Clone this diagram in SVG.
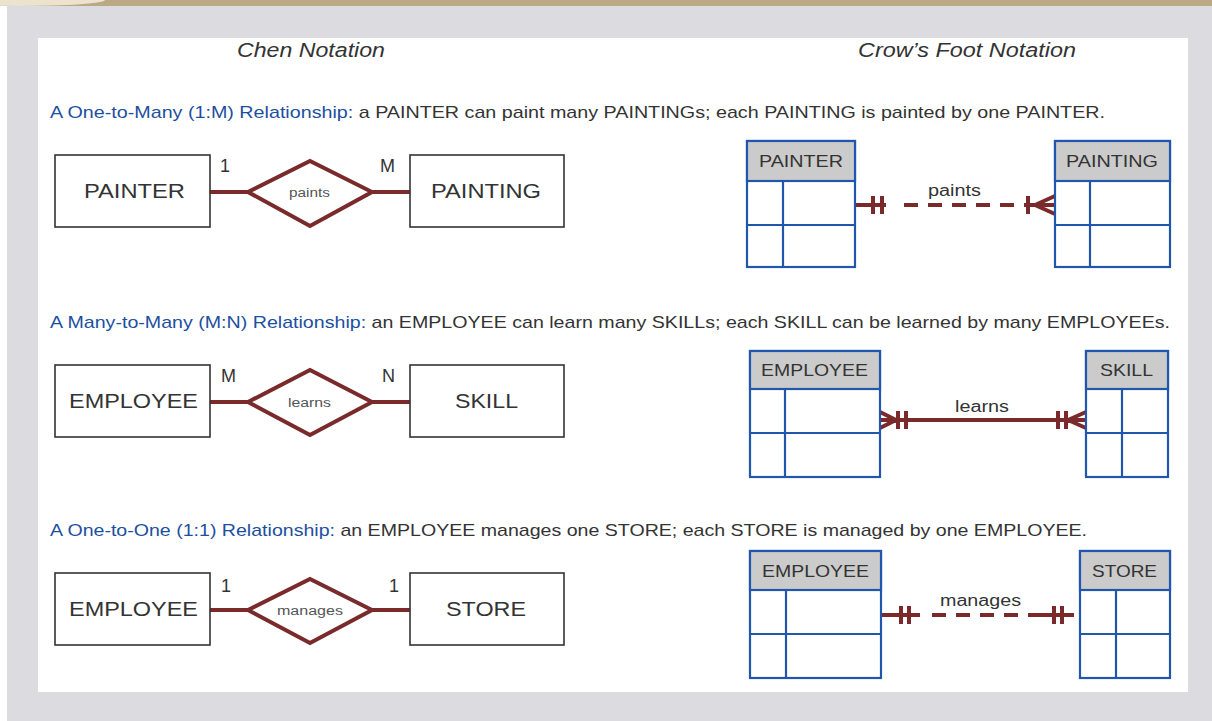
<svg xmlns="http://www.w3.org/2000/svg" width="1212" height="721" viewBox="0 0 1212 721">
<defs>
<style>
.t{font-family:"Liberation Sans",Arial,sans-serif;fill:#333}
.title{font-size:20px;font-style:italic}
.sent{font-size:17px}
.blue{fill:#1d4fa0}
.box{fill:#fff;stroke:#333;stroke-width:1.6}
.bt{font-size:21px}
.card{font-size:18px}
.dia{fill:#fff;stroke:#7a2a2a;stroke-width:4}
.rel{stroke:#7a2a2a;stroke-width:4;fill:none}
.dt{font-size:12.5px;fill:#555}
.tbl{fill:#fff;stroke:#2156ad;stroke-width:2.2}
.hdr{fill:#cbcbcb;stroke:#2156ad;stroke-width:2.2}
.ln{stroke:#2156ad;stroke-width:2.2}
.ht{font-size:17px}
.cf{stroke:#7a2a2a;stroke-width:4;fill:none}
.dash{stroke-dasharray:14 10}
.cl{font-size:16px}
</style>
</defs>
<rect x="0" y="0" width="1212" height="721" fill="#fff"/>
<rect x="7" y="0" width="1205" height="721" fill="#dcdbe0"/>
<rect x="0" y="0" width="1212" height="6" fill="#bba884"/>
<ellipse cx="20" cy="0" rx="85" ry="6" fill="#ece3cf"/>
<rect x="38" y="38" width="1150" height="654" fill="#fff"/>

<text class="t title" x="237" y="57" textLength="148" lengthAdjust="spacingAndGlyphs">Chen Notation</text>
<text class="t title" x="858" y="57" textLength="218" lengthAdjust="spacingAndGlyphs">Crow’s Foot Notation</text>

<text class="t sent" x="50" y="118" textLength="1055" lengthAdjust="spacingAndGlyphs"><tspan class="blue">A One-to-Many (1:M) Relationship:</tspan> a PAINTER can paint many PAINTINGs; each PAINTING is painted by one PAINTER.</text>
<text class="t sent" x="50" y="328" textLength="1120" lengthAdjust="spacingAndGlyphs"><tspan class="blue">A Many-to-Many (M:N) Relationship:</tspan> an EMPLOYEE can learn many SKILLs; each SKILL can be learned by many EMPLOYEEs.</text>
<text class="t sent" x="50" y="536" textLength="1037" lengthAdjust="spacingAndGlyphs"><tspan class="blue">A One-to-One (1:1) Relationship:</tspan> an EMPLOYEE manages one STORE; each STORE is managed by one EMPLOYEE.</text>

<g id="connectors">
<line class="rel" x1="210" y1="192" x2="248" y2="192"/>
<line class="rel" x1="372" y1="192" x2="410" y2="192"/>
<line class="rel" x1="210" y1="402" x2="248" y2="402"/>
<line class="rel" x1="372" y1="402" x2="410" y2="402"/>
<line class="rel" x1="210" y1="610" x2="248" y2="610"/>
<line class="rel" x1="372" y1="610" x2="410" y2="610"/>

<path class="cf" d="M856 205H886M873 196V214M882 196V214"/>
<line class="cf dash" x1="904" y1="205" x2="1030" y2="205"/>
<path class="cf" d="M1028 196V214M1028 205H1055M1035 205L1055 196M1035 205L1055 214"/>
<text class="t cl" x="928" y="196" textLength="53" lengthAdjust="spacingAndGlyphs">paints</text>

<path class="cf" d="M880 420H1086M880 412L896 420M880 428L896 420M898 411V429M906 411V429M1058 411V429M1066 411V429M1086 412L1068 420M1086 428L1068 420"/>
<text class="t cl" x="955" y="412" textLength="54" lengthAdjust="spacingAndGlyphs">learns</text>

<path class="cf" d="M881 615H920M901 606V624M909 606V624"/>
<line class="cf dash" x1="932" y1="615" x2="1050" y2="615" stroke-dasharray="15 10"/>
<path class="cf" d="M1034 615H1074M1054 606V624M1062 606V624"/>
<text class="t cl" x="940" y="606" textLength="81" lengthAdjust="spacingAndGlyphs">manages</text>
</g>

<g id="chen-painter"><rect class="box" x="55" y="155" width="155" height="72"/><text class="t bt" x="84" y="198" textLength="101" lengthAdjust="spacingAndGlyphs">PAINTER</text><text class="t card" x="220" y="172">1</text></g>
<g id="chen-paints"><polygon class="dia" points="248,192 310,161 372,192 310,226"/><text class="t dt" x="289" y="197" textLength="41" lengthAdjust="spacingAndGlyphs">paints</text></g>
<g id="chen-painting"><rect class="box" x="410" y="155" width="154" height="72"/><text class="t bt" x="431" y="198" textLength="110" lengthAdjust="spacingAndGlyphs">PAINTING</text><text class="t card" x="380" y="172">M</text></g>

<g id="chen-employee1"><rect class="box" x="55" y="365" width="155" height="72"/><text class="t bt" x="69" y="408" textLength="129" lengthAdjust="spacingAndGlyphs">EMPLOYEE</text><text class="t card" x="221" y="382">M</text></g>
<g id="chen-learns"><polygon class="dia" points="248,402 310,370 372,402 310,435"/><text class="t dt" x="288" y="407" textLength="43" lengthAdjust="spacingAndGlyphs">learns</text></g>
<g id="chen-skill"><rect class="box" x="410" y="365" width="154" height="72"/><text class="t bt" x="455" y="408" textLength="63" lengthAdjust="spacingAndGlyphs">SKILL</text><text class="t card" x="382" y="382">N</text></g>

<g id="chen-employee2"><rect class="box" x="55" y="573" width="155" height="72"/><text class="t bt" x="69" y="616" textLength="129" lengthAdjust="spacingAndGlyphs">EMPLOYEE</text><text class="t card" x="221" y="592">1</text></g>
<g id="chen-manages"><polygon class="dia" points="248,610 310,579 372,610 310,643"/><text class="t dt" x="277" y="615" textLength="66" lengthAdjust="spacingAndGlyphs">manages</text></g>
<g id="chen-store"><rect class="box" x="410" y="573" width="154" height="72"/><text class="t bt" x="446" y="616" textLength="80" lengthAdjust="spacingAndGlyphs">STORE</text><text class="t card" x="389" y="592">1</text></g>

<g id="cf-painter"><rect class="tbl" x="747" y="141" width="108" height="126"/><rect class="hdr" x="747" y="141" width="108" height="40"/><line class="ln" x1="747" y1="225" x2="855" y2="225"/><line class="ln" x1="783" y1="181" x2="783" y2="267"/><text class="t ht" x="759" y="167" textLength="84" lengthAdjust="spacingAndGlyphs">PAINTER</text></g>
<g id="cf-painting"><rect class="tbl" x="1055" y="141" width="115" height="126"/><rect class="hdr" x="1055" y="141" width="115" height="40"/><line class="ln" x1="1055" y1="225" x2="1170" y2="225"/><line class="ln" x1="1090" y1="181" x2="1090" y2="267"/><text class="t ht" x="1066" y="167" textLength="92" lengthAdjust="spacingAndGlyphs">PAINTING</text></g>

<g id="cf-employee1"><rect class="tbl" x="750" y="351" width="130" height="126"/><rect class="hdr" x="750" y="351" width="130" height="38"/><line class="ln" x1="750" y1="433" x2="880" y2="433"/><line class="ln" x1="785" y1="389" x2="785" y2="477"/><text class="t ht" x="761" y="376" textLength="107" lengthAdjust="spacingAndGlyphs">EMPLOYEE</text></g>
<g id="cf-skill"><rect class="tbl" x="1086" y="351" width="82" height="126"/><rect class="hdr" x="1086" y="351" width="82" height="38"/><line class="ln" x1="1086" y1="433" x2="1168" y2="433"/><line class="ln" x1="1122" y1="389" x2="1122" y2="477"/><text class="t ht" x="1100" y="376" textLength="53" lengthAdjust="spacingAndGlyphs">SKILL</text></g>

<g id="cf-employee2"><rect class="tbl" x="750" y="551" width="131" height="127"/><rect class="hdr" x="750" y="551" width="131" height="39"/><line class="ln" x1="750" y1="634" x2="881" y2="634"/><line class="ln" x1="786" y1="590" x2="786" y2="678"/><text class="t ht" x="762" y="577" textLength="107" lengthAdjust="spacingAndGlyphs">EMPLOYEE</text></g>
<g id="cf-store"><rect class="tbl" x="1080" y="551" width="90" height="127"/><rect class="hdr" x="1080" y="551" width="90" height="39"/><line class="ln" x1="1080" y1="634" x2="1170" y2="634"/><line class="ln" x1="1116" y1="590" x2="1116" y2="678"/><text class="t ht" x="1092" y="577" textLength="65" lengthAdjust="spacingAndGlyphs">STORE</text></g>
</svg>
